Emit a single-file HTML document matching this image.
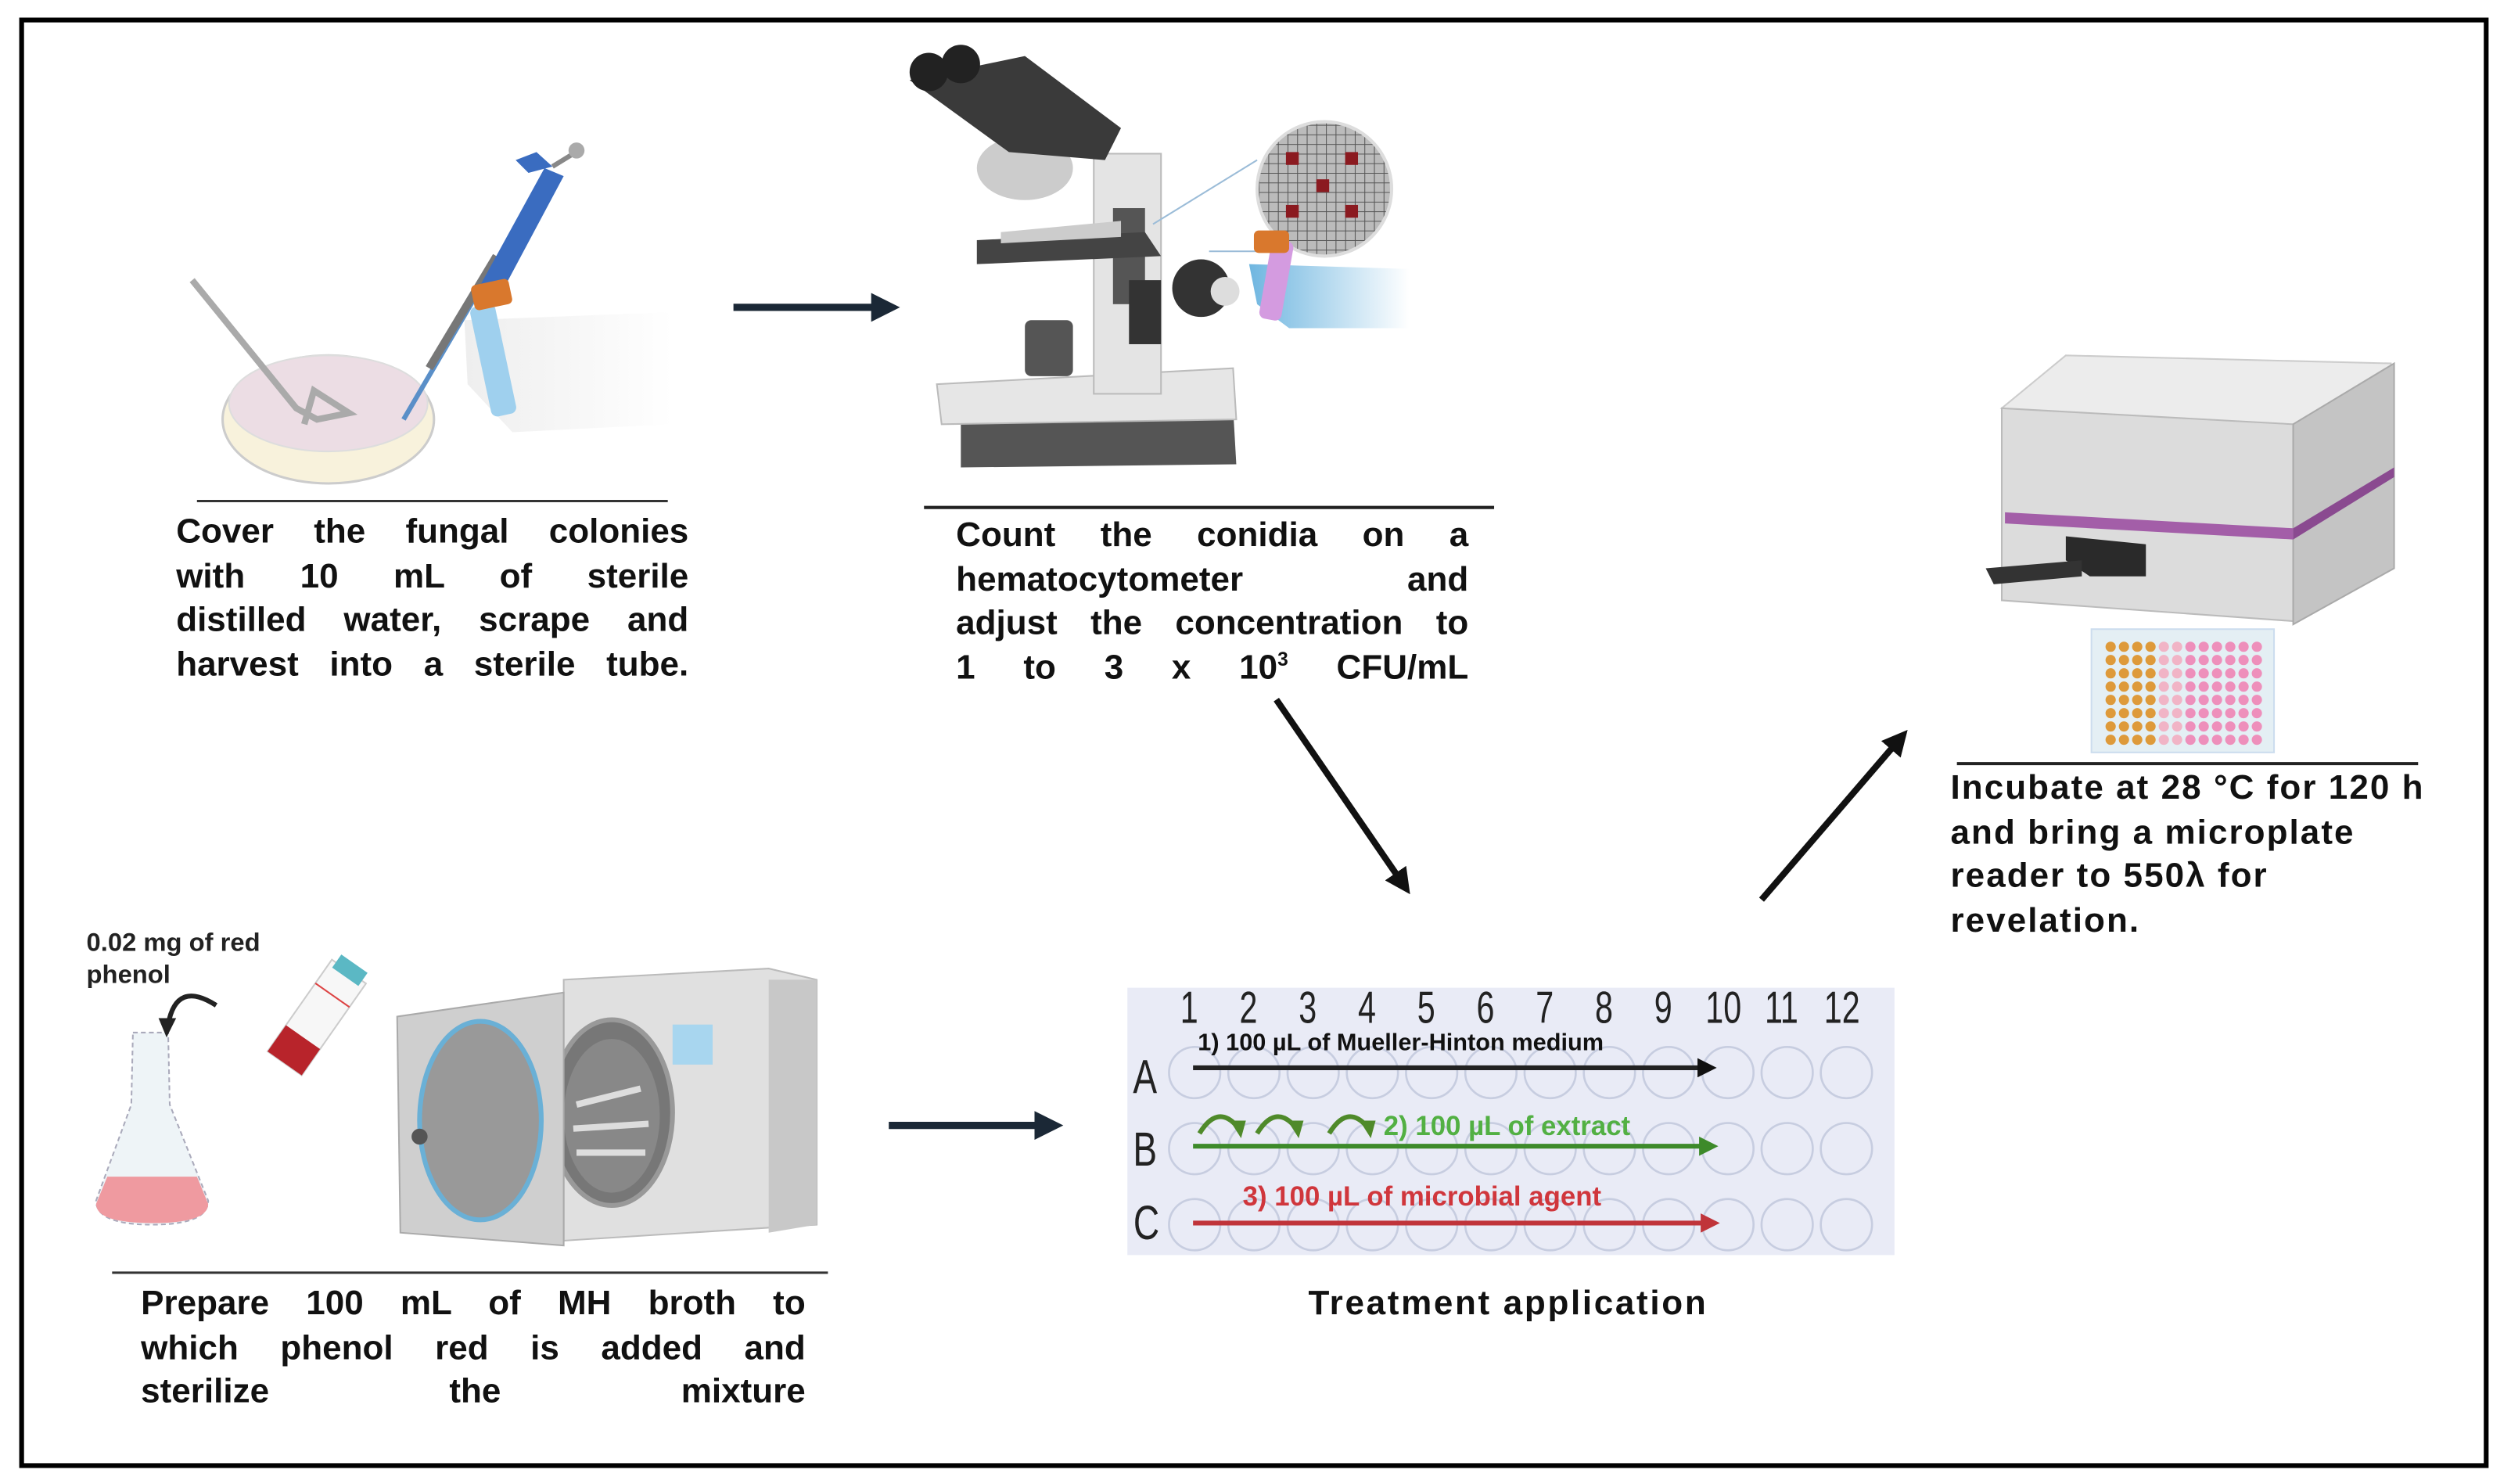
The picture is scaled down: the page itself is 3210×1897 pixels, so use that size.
<!DOCTYPE html>
<html><head><meta charset="utf-8">
<style>
html,body{margin:0;padding:0;background:#fff;}
#wrap{width:3210px;height:1897px;overflow:hidden;position:relative;background:#fff;}
#s{position:absolute;left:0;top:0;width:1568px;height:927px;transform:scale(2.0472,2.0464);transform-origin:0 0;}
svg{position:absolute;left:0;top:0;}
.t{position:absolute;font-family:"Liberation Sans",sans-serif;font-weight:bold;font-size:21.5px;color:#111;line-height:27.6px;}
.j div{text-align:justify;text-align-last:justify;white-space:nowrap;}
.p{position:absolute;font-family:"Liberation Sans",sans-serif;font-weight:bold;white-space:nowrap;}
</style></head><body>
<div id="wrap"><div id="s">
<svg width="1568" height="927" viewBox="0 0 1568 927">
<defs>
<marker id="ah" markerWidth="4" markerHeight="4" refX="2" refY="2" orient="auto" markerUnits="strokeWidth"><path d="M0,0 L4,2 L0,4 Z" fill="#1b2836"/></marker>
<marker id="ak" markerWidth="4" markerHeight="4" refX="2" refY="2" orient="auto" markerUnits="strokeWidth"><path d="M0,0 L4,2 L0,4 Z" fill="#111"/></marker>
<marker id="ag" markerWidth="4" markerHeight="4" refX="2" refY="2" orient="auto" markerUnits="strokeWidth"><path d="M0,0 L4,2 L0,4 Z" fill="#3d8a2a"/></marker>
<marker id="ar" markerWidth="4" markerHeight="4" refX="2" refY="2" orient="auto" markerUnits="strokeWidth"><path d="M0,0 L4,2 L0,4 Z" fill="#c0343a"/></marker>
<linearGradient id="fade" x1="0" x2="1"><stop offset="0" stop-color="#eeeeee"/><stop offset="1" stop-color="#fff"/></linearGradient>
<linearGradient id="fadeb" x1="0" x2="1"><stop offset="0" stop-color="#6fb6e0"/><stop offset="1" stop-color="#fff"/></linearGradient>
<pattern id="grid" width="6" height="6" patternUnits="userSpaceOnUse"><rect width="6" height="6" fill="#bbb"/><path d="M0,0H6M0,0V6" stroke="#555" stroke-width="1"/></pattern>
</defs>
<rect x="13.5" y="12.5" width="1539" height="903" fill="none" stroke="#000" stroke-width="3"/>

<!-- Petri dish, spreader, pipette, glove -->
<ellipse cx="205" cy="262" rx="66" ry="40" fill="#f8f2dc" stroke="#ccc" stroke-width="1.5"/>
<ellipse cx="205" cy="252" rx="62" ry="30" fill="#ecdde4" stroke="#ddd"/>
<path d="M120,175 L185,255 L198,262 L218,258 L196,244 L190,265" fill="none" stroke="#aaa" stroke-width="4"/>
<path d="M252,262 L300,180" stroke="#5a8fc8" stroke-width="3"/>
<path d="M268,230 L310,160" stroke="#777" stroke-width="5"/>
<path d="M300,178 L340,105 L352,110 L312,185 Z" fill="#3a6cc0"/>
<path d="M330,108 L322,100 L335,95 L345,104" fill="#3a6cc0"/>
<path d="M345,104 L358,96" stroke="#888" stroke-width="3"/>
<circle cx="360" cy="94" r="5" fill="#aaa"/>
<path d="M290,200 L420,195 L420,265 L320,270 L292,240 Z" fill="url(#fade)"/>
<rect x="300" y="190" width="16" height="70" rx="4" fill="#9fd0ee" transform="rotate(-12 308 225)"/>
<rect x="295" y="176" width="24" height="16" rx="3" fill="#d9782d" transform="rotate(-12 307 184)"/>

<!-- arrow 1 -->
<line x1="458" y1="192" x2="553" y2="192" stroke="#1b2836" stroke-width="4.5" marker-end="url(#ah)"/>

<!-- Microscope -->
<path d="M600,257 L770,255 L772,290 L600,292 Z" fill="#555"/>
<path d="M585,240 L770,230 L772,262 L588,265 Z" fill="#e6e6e6" stroke="#bbb"/>
<rect x="683" y="96" width="42" height="150" fill="#e4e4e4" stroke="#bbb"/>
<rect x="695" y="130" width="20" height="60" fill="#555"/>
<path d="M610,150 L715,145 L725,160 L610,165 Z" fill="#444"/>
<path d="M625,145 L700,138 L700,148 L625,152 Z" fill="#ccc"/>
<rect x="640" y="200" width="30" height="35" fill="#555" rx="4"/>
<rect x="705" y="175" width="20" height="40" fill="#333"/>
<circle cx="750" cy="180" r="18" fill="#333"/><circle cx="765" cy="182" r="9" fill="#ddd"/>
<ellipse cx="640" cy="105" rx="30" ry="20" fill="#ccc"/>
<path d="M568,50 L640,35 L700,80 L690,100 L630,95 Z" fill="#3a3a3a"/>
<circle cx="580" cy="45" r="12" fill="#222"/><circle cx="600" cy="40" r="12" fill="#222"/>
<circle cx="827" cy="118" r="42" fill="url(#grid)" stroke="#ddd" stroke-width="2"/>
<rect x="803" y="95" width="8" height="8" fill="#8b1a20"/><rect x="840" y="95" width="8" height="8" fill="#8b1a20"/>
<rect x="822" y="112" width="8" height="8" fill="#8b1a20"/><rect x="803" y="128" width="8" height="8" fill="#8b1a20"/><rect x="840" y="128" width="8" height="8" fill="#8b1a20"/>
<line x1="720" y1="140" x2="785" y2="100" stroke="#9bbcd8"/><line x1="755" y1="157" x2="790" y2="157" stroke="#9bbcd8"/>
<path d="M780,165 L880,168 L880,205 L805,205 L785,190 Z" fill="url(#fadeb)"/>
<rect x="790" y="150" width="14" height="50" rx="4" fill="#d49be0" transform="rotate(10 797 175)"/>
<rect x="783" y="144" width="22" height="14" rx="3" fill="#d9782d"/>

<line x1="123" y1="313" x2="417" y2="313" stroke="#333" stroke-width="1.5"/>
<line x1="577" y1="317" x2="933" y2="317" stroke="#222" stroke-width="2"/>
<line x1="1222" y1="477" x2="1510" y2="477" stroke="#222" stroke-width="2"/>
<line x1="70" y1="795" x2="517" y2="795" stroke="#333" stroke-width="1.5"/>

<!-- diagonal arrows -->
<line x1="797" y1="437" x2="876" y2="552" stroke="#111" stroke-width="4" marker-end="url(#ak)"/>
<line x1="1100" y1="562" x2="1186" y2="462" stroke="#111" stroke-width="4" marker-end="url(#ak)"/>

<!-- Microplate reader -->
<path d="M1250,255 L1290,222 L1493,227 L1493,245 L1430,280 Z" fill="#ececec" stroke="#ccc"/>
<path d="M1250,255 L1432,265 L1432,388 L1250,375 Z" fill="#dcdcdc" stroke="#bbb"/>
<path d="M1432,265 L1495,227 L1495,355 L1432,390 Z" fill="#c4c4c4" stroke="#aaa"/>
<path d="M1252,320 L1432,330 L1432,337 L1252,327 Z" fill="#a35ea8"/>
<path d="M1432,330 L1495,292 L1495,298 L1432,337 Z" fill="#8a4a90"/>
<path d="M1290,335 L1340,340 L1340,360 L1305,360 L1290,350 Z" fill="#2a2a2a"/>
<path d="M1240,355 L1300,350 L1300,360 L1245,365 Z" fill="#333"/>
<rect x="1306" y="393" width="114" height="77" fill="#e4eff4" stroke="#cde"/>
<g id="wellsR"></g>

<!-- plate -->
<rect x="704" y="617" width="479" height="167" fill="#e9ebf6"/>
<g fill="none" stroke="#c7cde0" stroke-width="1.3" id="wellsP"></g>
<line x1="745" y1="667" x2="1066" y2="667" stroke="#222" stroke-width="3" marker-end="url(#ak)"/>
<line x1="745" y1="716" x2="1067" y2="716" stroke="#3d8a2a" stroke-width="3" marker-end="url(#ag)"/>
<line x1="745" y1="764" x2="1068" y2="764" stroke="#c0343a" stroke-width="3" marker-end="url(#ar)"/>
<g fill="none" stroke="#4f8a2a" stroke-width="3">
<path d="M749,708 Q760,690 772,703"/><path d="M785,708 Q796,690 808,703"/><path d="M830,708 Q841,690 853,703"/>
</g>
<g fill="#4f8a2a"><path d="M768,700 L778,700 L775,711 Z"/><path d="M804,700 L814,700 L811,711 Z"/><path d="M849,700 L859,700 L856,711 Z"/></g>

<!-- Flask -->
<path d="M83,645 L105,645 L106,690 L130,750 Q130,765 95,765 Q60,765 60,750 L82,690 Z" fill="#eef4f7" stroke="#aab" stroke-dasharray="3,2"/>
<path d="M67,735 L123,735 L130,752 Q130,764 95,764 Q60,764 60,752 Z" fill="#ef9aa0"/>
<path d="M135,628 Q110,612 105,640" fill="none" stroke="#222" stroke-width="3"/>
<path d="M99,636 L110,636 L104,648 Z" fill="#222"/>
<g transform="rotate(35 197 635)"><rect x="185" y="600" width="26" height="70" fill="#f7f7f7" stroke="#ccc"/><rect x="185" y="650" width="26" height="20" fill="#b8242b"/><rect x="188" y="594" width="20" height="10" fill="#5bb8c4"/><line x1="185" y1="618" x2="211" y2="618" stroke="#d44"/></g>

<!-- Oven -->
<path d="M352,612 L480,605 L510,612 L510,765 L352,775 Z" fill="#e0e0e0" stroke="#bbb"/>
<path d="M480,612 L510,612 L510,765 L480,770 Z" fill="#c8c8c8"/>
<rect x="420" y="640" width="25" height="25" fill="#a8d6ef"/>
<ellipse cx="382" cy="695" rx="38" ry="58" fill="#777" stroke="#999" stroke-width="3"/>
<ellipse cx="382" cy="697" rx="30" ry="48" fill="#888"/>
<path d="M360,690 L400,680 M358,705 L405,702 M360,720 L403,720" stroke="#ddd" stroke-width="4"/>
<path d="M248,635 L352,620 L352,778 L250,770 Z" fill="#cfcfcf" stroke="#aaa"/>
<ellipse cx="300" cy="700" rx="38" ry="62" fill="#999" stroke="#6ab0d6" stroke-width="3"/>
<circle cx="262" cy="710" r="5" fill="#555"/>

<!-- arrow 3 -->
<line x1="555" y1="703" x2="655" y2="703" stroke="#1b2836" stroke-width="4.5" marker-end="url(#ah)"/>
</svg>

<div class="t j" style="left:110px;top:319px;width:320px;"><div>Cover the fungal colonies</div><div>with 10 mL of sterile</div><div>distilled water, scrape and</div><div>harvest into a sterile tube.</div></div>
<div class="t j" style="left:597px;top:321px;width:320px;"><div>Count the conidia on a</div><div>hematocytometer and</div><div>adjust the concentration to</div><div>1 to 3 x 10<sup style="font-size:12px;line-height:0">3</sup> CFU/mL</div></div>
<div class="t" style="left:1218px;top:479px;white-space:nowrap;letter-spacing:1px;">Incubate at 28 °C for 120 h<br>and bring a microplate<br>reader to 550λ for<br>revelation.</div>
<div class="t j" style="left:88px;top:801px;width:415px;"><div>Prepare 100 mL of MH broth to</div><div>which phenol red is added and</div><div>sterilize the mixture</div></div>
<div class="t" style="left:817px;top:801px;white-space:nowrap;letter-spacing:1.3px;">Treatment application</div>
<div class="p" style="left:54px;top:580px;font-size:16px;line-height:20px;color:#222;">0.02 mg of red<br>phenol</div>

<div class="p" style="left:748px;top:643px;font-size:15px;color:#111;">1) 100 µL of Mueller-Hinton medium</div>
<div class="p" style="left:864px;top:694px;font-size:17px;color:#52b043;">2) 100 µL of extract</div>
<div class="p" style="left:776px;top:738px;font-size:17px;color:#d0363c;">3) 100 µL of microbial agent</div>
<div class="p" style="left:705px;top:657px;font-size:30px;font-weight:normal;color:#222;transform:scaleX(.75);">A</div>
<div class="p" style="left:705px;top:702px;font-size:30px;font-weight:normal;color:#222;transform:scaleX(.75);">B</div>
<div class="p" style="left:705px;top:748px;font-size:30px;font-weight:normal;color:#222;transform:scaleX(.75);">C</div>
<div id="nums"></div>
</div></div>
<script>
var ns="http://www.w3.org/2000/svg";
var g=document.getElementById('wellsP');
for(var r=0;r<3;r++)for(var c=0;c<12;c++){var e=document.createElementNS(ns,'circle');e.setAttribute('cx',746+37*c);e.setAttribute('cy',670+47.5*r);e.setAttribute('r',16);g.appendChild(e);}
var w=document.getElementById('wellsR');
for(var r=0;r<8;r++)for(var c=0;c<12;c++){var e=document.createElementNS(ns,'circle');e.setAttribute('cx',1318+8.3*c);e.setAttribute('cy',404+8.3*r);e.setAttribute('r',3.2);e.setAttribute('fill',c<4?'#de9a3a':(c<6?'#f1b4c6':'#ee8fbb'));w.appendChild(e);}
var n=document.getElementById('nums'),h='';
for(var i=0;i<12;i++){h+='<div class="p" style="left:'+(737+37*i-(i>8?5:0))+'px;top:614px;font-size:28px;font-weight:normal;color:#222;transform:scaleX(.72);transform-origin:0 0;">'+(i+1)+'</div>';}
n.innerHTML=h;
</script>
</body></html>
